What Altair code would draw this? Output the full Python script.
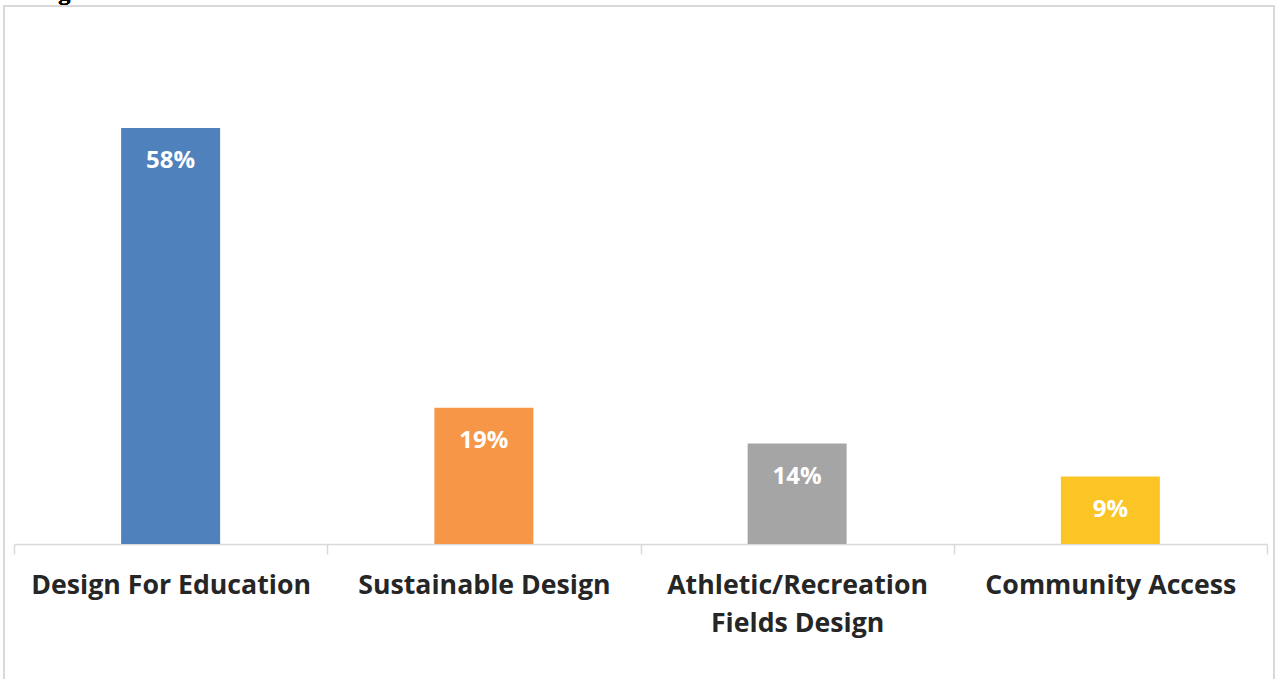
import altair as alt
import pandas as pd

categories = ["Design For Education", "Sustainable Design", "Athletic/Recreation Fields Design", "Community Access"]
values = [58, 19, 14, 9.4]
value_labels = ["58%", "19%", "14%", "9%"]
colors = ["#4F81BD", "#F79646", "#A5A5A5", "#FCC526"]

df = pd.DataFrame({"cat": categories, "val": values, "lab": value_labels, "col": colors})

W, H = 1253, 502
FONT = "Open Sans"

x_enc = alt.X("cat:N", sort=categories,
              scale=alt.Scale(paddingInner=0, paddingOuter=0),
              axis=alt.Axis(title=None, labelAngle=0, tickBand="extent",
                            domainColor="#d9d9d9", domainWidth=1.5,
                            tickColor="#d9d9d9", tickWidth=1.5, tickSize=10,
                            labelFont=FONT, labelFontSize=26.7, labelFontWeight="bold",
                            labelColor="#262626", labelPadding=18, labelLineHeight=38,
                            labelLimit=600,
                            labelExpr="datum.value == 'Athletic/Recreation Fields Design' ? ['Athletic/Recreation', 'Fields Design'] : datum.value"))
y_enc = alt.Y("val:Q", scale=alt.Scale(domain=[0, 70], nice=False), axis=None)

bars = alt.Chart(df).mark_bar(width={"band": 0.316}).encode(
    x=x_enc, y=y_enc,
    color=alt.Color("col:N", scale=None),
)

text = alt.Chart(df).mark_text(color="white", font=FONT, fontSize=24, fontWeight="bold",
                               baseline="middle", dy=33).encode(
    x=alt.X("cat:N", sort=categories), y=y_enc, text="lab:N")

frame = alt.Chart(df).mark_rect(fill=None, stroke="#d9d9d9", strokeWidth=2).encode(
    x=alt.value(-10), x2=alt.value(1260), y=alt.value(-36), y2=alt.value(700))

caption = alt.Chart(df).mark_text(font="Liberation Serif", fontSize=24, fontWeight="bold",
                                  color="black", align="left", baseline="alphabetic").encode(
    x=alt.value(23), y=alt.value(-42), text=alt.value("Figure"))

chart = alt.layer(frame, bars, text, caption).properties(
    width=W, height=H,
    autosize=alt.AutoSizeParams(type="none"),
    padding={"left": 14, "top": 42, "right": 13, "bottom": 135},
    background="white",
).configure_view(stroke=None)

chart.save("out.html", embed_options={"renderer": "svg", "actions": False})
